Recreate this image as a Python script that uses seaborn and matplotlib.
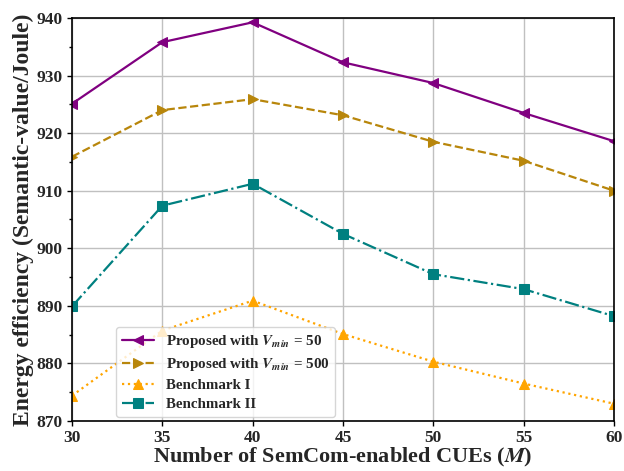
import matplotlib
matplotlib.use("Agg")
import matplotlib.pyplot as plt
from matplotlib.ticker import MultipleLocator
import seaborn as sns
import pandas as pd

# Number of SemCom-enabled CUEs
num_cues = [30, 35, 40, 45, 50, 55, 60]

# Energy efficiency (Semantic-value/Joule) per scheme
proposed_v50 = [925.1, 935.8, 939.25, 932.3, 928.7, 923.5, 918.6]
proposed_v500 = [915.9, 924.0, 925.9, 923.1, 918.5, 915.2, 910.0]
benchmark_1 = [874.4, 885.7, 890.9, 885.1, 880.3, 876.5, 873.0]
benchmark_2 = [889.9, 907.4, 911.2, 902.5, 895.5, 892.9, 888.2]

series_names = [
    r"Proposed with $V_{min}$ = 50",
    r"Proposed with $V_{min}$ = 500",
    "Benchmark I",
    "Benchmark II",
]
series_values = [proposed_v50, proposed_v500, benchmark_1, benchmark_2]
colors = ["#800080", "#b8860b", "#ffa500", "#008080"]
markers = ["<", ">", "^", "s"]
linestyles = ["-", "--", ":", "-."]

sns.set_style("ticks")
plt.rcParams["font.family"] = ["Liberation Serif", "DejaVu Serif"]
plt.rcParams["font.weight"] = "bold"
plt.rcParams["mathtext.fontset"] = "stix"

fig = plt.figure(figsize=(6.24, 4.71), dpi=100)
ax = fig.add_axes([0.1154, 0.1062, 0.8686, 0.8556])

for name, vals, c, m, ls in zip(series_names, series_values, colors, markers, linestyles):
    df = pd.DataFrame({"M": num_cues, "EE": vals})
    sns.lineplot(data=df, x="M", y="EE", ax=ax, color=c, marker=m,
                 linestyle=ls, linewidth=1.6, markersize=7.5,
                 markeredgecolor=c, label=name)

ax.set_xlim(30, 60)
ax.set_ylim(870, 940)
ax.set_xticks(num_cues)
ax.yaxis.set_major_locator(MultipleLocator(10))
ax.yaxis.set_minor_locator(MultipleLocator(5))
ax.grid(True, which="major", color="#c0c0c0", linewidth=1.0)
ax.set_axisbelow(True)

for s in ax.spines.values():
    s.set_color("black")
    s.set_linewidth(1.2)

ax.tick_params(axis="both", which="major", labelsize=12.5, length=3.5, width=1, color="black", pad=3)
ax.tick_params(axis="y", which="minor", length=2, width=1, color="black")
for lab in ax.get_xticklabels() + ax.get_yticklabels():
    lab.set_fontweight("bold")

ax.set_xlabel("Number of SemCom-enabled CUEs ($\\mathit{M}$)", fontsize=16, fontweight="bold", labelpad=0)
ax.set_ylabel("Energy efficiency (Semantic-value/Joule)", fontsize=17, fontweight="bold", labelpad=2)

leg = ax.legend(loc="lower left", bbox_to_anchor=(0.075, 0.0), fontsize=10.8,
                frameon=True, fancybox=True, framealpha=0.8, edgecolor="#cccccc",
                handlelength=2.1, borderpad=0.4, labelspacing=0.38, borderaxespad=0.25)
for t in leg.get_texts():
    t.set_fontweight("bold")

fig.savefig("out.png", dpi=100)
